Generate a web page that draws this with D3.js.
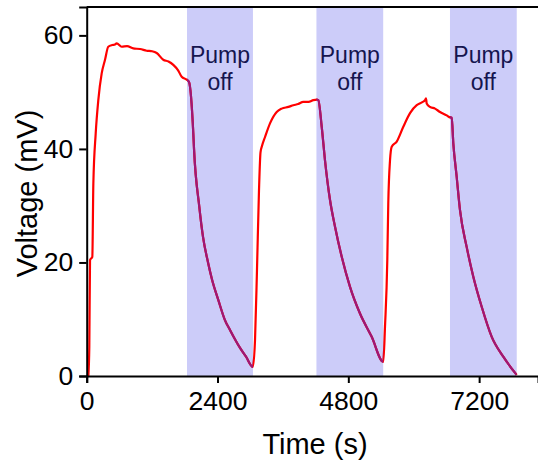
<!DOCTYPE html>
<html>
<head>
<meta charset="utf-8">
<script src="https://cdn.jsdelivr.net/npm/d3@7"></script>
<style>
  body { margin: 0; background: #fff; }
  text { font-family: "Liberation Sans", Arial, sans-serif; }
</style>
</head>
<body>
<div id="chart"></div>
<script>
// time (s) and voltage (mV)
var times = [30, 48, 61, 103, 122, 165, 213, 275, 336, 396, 470, 519, 550, 642, 740, 855, 980, 1100, 1200, 1284, 1405, 1500, 1589, 1680, 1743, 1835, 1877,
    1956, 1969, 2066, 2134, 2226, 2299, 2414, 2534, 2629, 2816, 2923, 3049,
    3088, 3124, 3161, 3189, 3216, 3272, 3363, 3486, 3578, 3700, 3791, 3880, 3974, 4070, 4157, 4220, 4249,
    4312, 4372, 4464, 4556, 4679, 4831, 5014, 5229, 5442,
    5473, 5515, 5533, 5565, 5596, 5688, 5809, 5932, 6055, 6150, 6207, 6225, 6238, 6299, 6391, 6482, 6605, 6653,
    6697, 6726, 6788, 6849, 6972, 7093, 7247, 7431, 7643, 7889];
var voltage = [0, 5.2, 20.4, 21, 33.9, 42.7, 48.6, 53.3, 55.7, 58, 58.3, 58.4, 58.6, 58, 58.1, 57.7, 57.6, 57.3, 57.2, 56.9, 55.7, 55.4, 54.8, 53.8, 52.7, 52.2, 51.8,
    42.7, 40, 29.8, 24.5, 20, 17, 13.4, 9.9, 8.1, 4.9, 3.4, 1.6,
    6.3, 18.6, 32.7, 39.4, 40.5, 42.1, 44.5, 46.5, 47.1, 47.4, 47.7, 47.9, 48.3, 48.3, 48.6, 48.7, 48.6,
    43.9, 38, 31, 26.3, 21, 15.7, 11, 6.9, 2.5,
    8.7, 20.4, 30.4, 38, 40.4, 41.3, 43.9, 46.3, 47.7, 48.2, 48.6, 48.9, 48, 47.4, 47.1, 46.5, 45.9, 45.6,
    45.5, 41, 35.1, 29.2, 22.7, 17.5, 12.2, 6.9, 3.4, 0.2];
var pumpOffStart = [1840, 4215, 6665];
var pumpOffEnd = [3050, 5440, 7890];
var xTicks = [0, 2400, 4800, 7200];
var yTicks = [0, 20, 40, 60];

var W = 538, H = 467;
var plotLeft = 86.7, plotTop = 7, plotBottom = 376;

var svg = d3.select("#chart").append("svg")
    .attr("width", W)
    .attr("height", H);

var x = d3.scaleLinear().domain([0, 8280]).range([plotLeft, 538]);
var y = d3.scaleLinear().domain([0, 65]).range([plotBottom, plotTop]);

var data = times.map(function(t, i) { return { t: t, v: voltage[i] }; });
var bands = pumpOffStart.map(function(s, i) { return { s: s, e: pumpOffEnd[i] }; });

// shaded pump-off periods
svg.selectAll("rect.band").data(bands).enter().append("rect")
    .attr("class", "band")
    .attr("x", function(d) { return x(d.s); })
    .attr("width", function(d) { return x(d.e) - x(d.s); })
    .attr("y", plotTop)
    .attr("height", plotBottom - plotTop)
    .style("fill", "#ccccf9");

var line = d3.line()
    .curve(d3.curveMonotoneX)
    .x(function(d) { return x(d.t); })
    .y(function(d) { return y(d.v); });

svg.append("path").datum(data)
    .attr("d", line)
    .style("fill", "none")
    .style("stroke", "#ff0000")
    .style("stroke-width", 2.2)
    .style("stroke-linejoin", "round");

// the part of the trace inside the shaded bands looks purple
var clip = svg.append("clipPath").attr("id", "bandclip");
clip.selectAll("rect").data(bands).enter().append("rect")
    .attr("x", function(d) { return x(d.s); })
    .attr("width", function(d) { return x(d.e) - x(d.s); })
    .attr("y", 0)
    .attr("height", H);

svg.append("path").datum(data)
    .attr("d", line)
    .attr("clip-path", "url(#bandclip)")
    .style("fill", "none")
    .style("stroke", "#9c1877")
    .style("stroke-width", 2.2)
    .style("stroke-linejoin", "round");

svg.selectAll("text.pump").data(bands).enter().append("text")
    .attr("class", "pump")
    .attr("x", function(d) { return (x(d.s) + x(d.e)) / 2; })
    .attr("y", 63)
    .attr("text-anchor", "middle")
    .style("font-size", "23px")
    .style("fill", "#15154f")
    .text("Pump");
svg.selectAll("text.off").data(bands).enter().append("text")
    .attr("class", "off")
    .attr("x", function(d) { return (x(d.s) + x(d.e)) / 2; })
    .attr("y", 90)
    .attr("text-anchor", "middle")
    .style("font-size", "23px")
    .style("fill", "#15154f")
    .text("off");

// top frame line
svg.append("line")
    .attr("x1", plotLeft).attr("x2", W)
    .attr("y1", plotTop).attr("y2", plotTop)
    .style("stroke", "#000")
    .style("stroke-width", 2);

var xAxis = svg.append("g")
    .attr("transform", "translate(0," + plotBottom + ")")
    .call(d3.axisBottom(x).tickValues(xTicks).tickFormat(d3.format("d"))
        .tickSizeOuter(0).tickSize(7).tickPadding(8));

var yAxis = svg.append("g")
    .attr("transform", "translate(" + plotLeft + ",0)")
    .call(d3.axisLeft(y).tickValues(yTicks).tickFormat(d3.format("d"))
        .tickSizeOuter(0).tickSize(7.5).tickPadding(6));

[xAxis, yAxis].forEach(function(g) {
    g.select(".domain").style("stroke", "#000").style("stroke-width", 2);
    g.selectAll(".tick line").style("stroke", "#000").style("stroke-width", 2);
    g.selectAll(".tick text")
        .style("font-family", "'Liberation Sans', Arial, sans-serif")
        .style("font-size", "26.5px")
        .style("fill", "#000");
});

svg.append("text")
    .attr("x", 315)
    .attr("y", 454)
    .attr("text-anchor", "middle")
    .style("font-size", "29px")
    .text("Time (s)");

svg.append("text")
    .attr("transform", "translate(37,193.5) rotate(-90)")
    .attr("text-anchor", "middle")
    .style("font-size", "29px")
    .text("Voltage (mV)");
</script>
</body>
</html>
